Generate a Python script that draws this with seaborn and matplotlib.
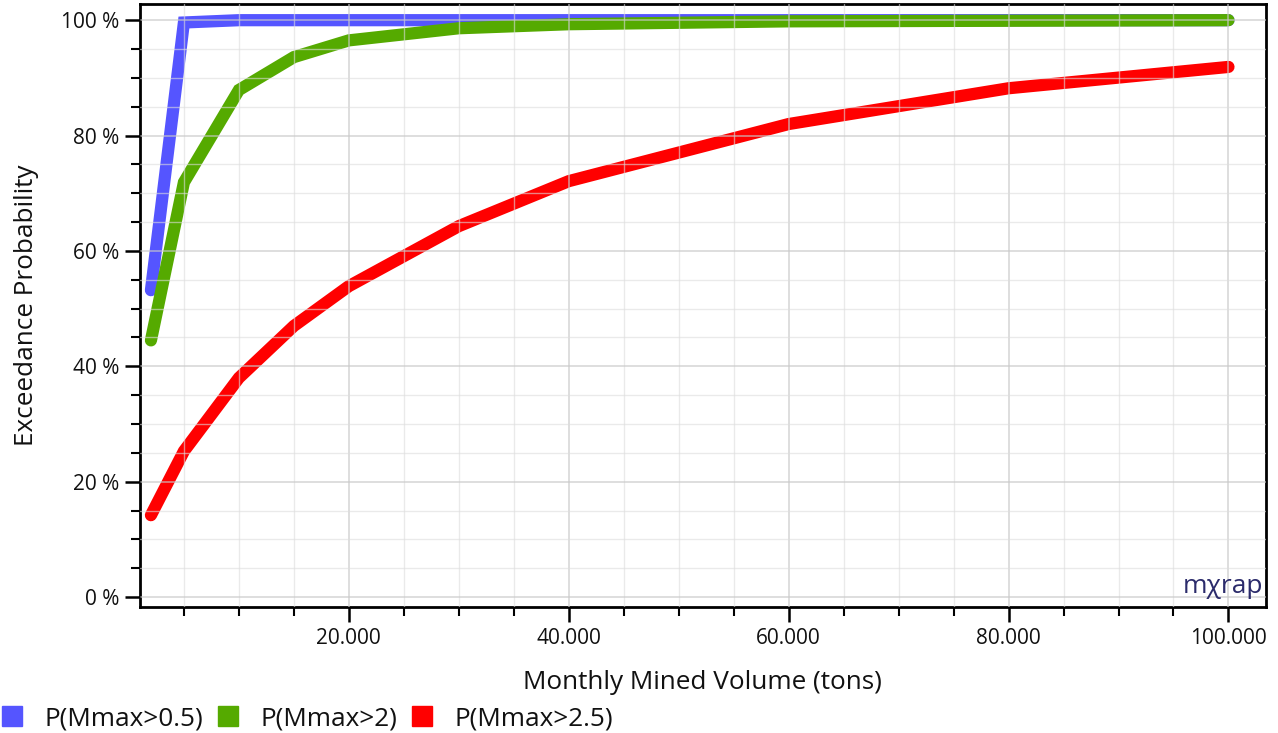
import pandas as pd
import seaborn as sns
import matplotlib.pyplot as plt
import numpy as np
from matplotlib.ticker import MultipleLocator, FuncFormatter
from matplotlib.lines import Line2D

volume = [2000, 5000, 10000, 15000, 20000, 30000, 40000, 60000, 80000, 100000]
p_05 = [53.2, 99.6, 100.0, 100.0, 100.0, 100.0, 100.0, 100.0, 100.0, 100.0]
p_2 = [44.5, 71.9, 87.9, 93.6, 96.5, 98.6, 99.3, 99.8, 99.9, 100.0]
p_25 = [14.2, 25.3, 38.0, 47.0, 53.9, 64.3, 72.1, 82.0, 88.2, 91.9]
names = ["P(Mmax>0.5)", "P(Mmax>2)", "P(Mmax>2.5)"]
colors = ["#5555ff", "#55aa00", "#ff0000"]

df = pd.DataFrame({
    "Volume": volume * 3,
    "Prob": p_05 + p_2 + p_25,
    "Series": [names[0]] * len(volume) + [names[1]] * len(volume) + [names[2]] * len(volume),
})

sns.set_theme(style="white")
plt.rcParams['font.family'] = ['Open Sans', 'DejaVu Sans']
plt.rcParams['text.color'] = '#111111'
plt.rcParams['axes.labelcolor'] = '#111111'

fig = plt.figure(figsize=(12.78, 7.33), dpi=100)
ax = fig.add_axes([0.1095, 0.172, 0.881, 0.8225])

ax = sns.lineplot(data=df, x="Volume", y="Prob", hue="Series", palette=colors,
                  linewidth=8.8, legend=False, ax=ax)
for ln in ax.get_lines():
    ln.set_solid_capstyle("round")
    ln.set_solid_joinstyle("miter")

ax.set_xlim(1000, 103400)
ax.set_ylim(-1.7, 102.8)

ax.xaxis.set_major_locator(MultipleLocator(20000))
ax.xaxis.set_minor_locator(MultipleLocator(5000))
ax.yaxis.set_major_locator(MultipleLocator(20))
ax.yaxis.set_minor_locator(MultipleLocator(5))
ax.xaxis.set_major_formatter(FuncFormatter(lambda v, p: f"{int(v):,}".replace(",", ".")))
ax.yaxis.set_major_formatter(FuncFormatter(lambda v, p: f"{int(v)} %"))

ax.set_axisbelow(False)
ax.grid(which="major", color="#c8c8c8", linewidth=1.2, alpha=0.7)
ax.grid(which="minor", color="#dddddd", linewidth=1.0, alpha=0.6)

ax.tick_params(which="major", direction="out", length=11, width=1.8, color="black",
               labelsize=15, labelcolor="#111111", bottom=True, left=True, pad=4)
ax.tick_params(which="minor", direction="out", length=6.5, width=1.5, color="black",
               bottom=True, left=True)
for s in ax.spines.values():
    s.set_color("black")
    s.set_linewidth(2)

ax.set_xlabel("Monthly Mined Volume (tons)", fontsize=18.8, labelpad=15)
ax.set_ylabel("Exceedance Probability", fontsize=18.8, labelpad=16)

ax.text(0.998, 0.013, "m\u03c7rap", transform=ax.transAxes, ha="right", va="bottom",
        fontsize=19, color="#2b2b6b")

handles = [Line2D([], [], marker="s", linestyle="none", markersize=15,
                  markerfacecolor=c, markeredgecolor=c) for c in colors]
fig.legend(handles, names, loc="lower left", bbox_to_anchor=(-0.0195, -0.03), ncol=3,
           frameon=False, fontsize=18.8, handletextpad=0.75, columnspacing=0.45,
           handlelength=1.0)

fig.savefig("out.png", dpi=100)
